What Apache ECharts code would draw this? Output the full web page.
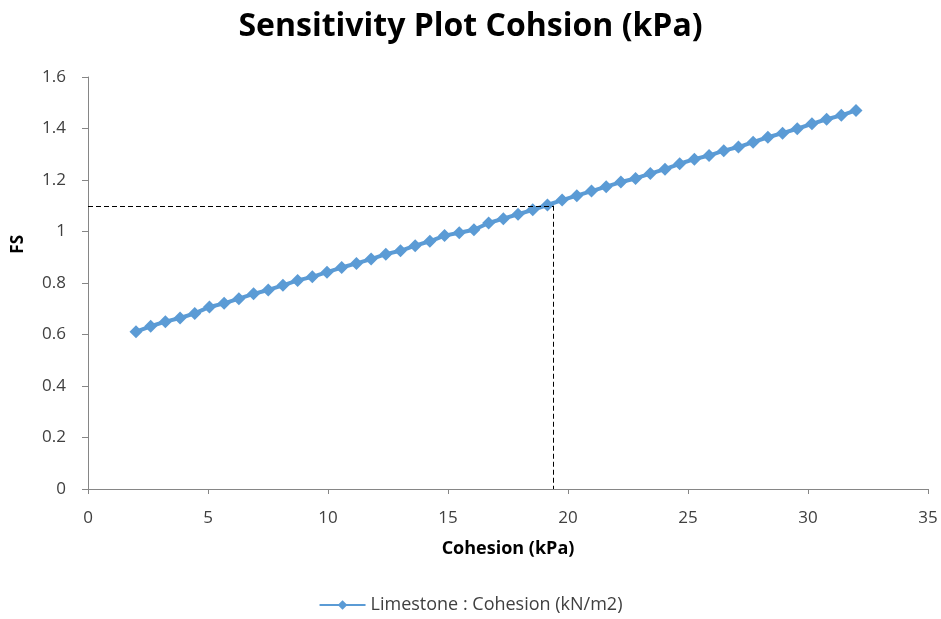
<!DOCTYPE html>
<html>
<head>
<meta charset="utf-8">
<script src="https://cdn.jsdelivr.net/npm/echarts@6/dist/echarts.min.js"></script>
<style>html,body{margin:0;padding:0;background:#fff}#c{width:941px;height:619px}</style>
</head>
<body>
<div id="c"></div>
<script>
// Data
var cohesion = [2.000, 2.612, 3.224, 3.837, 4.449, 5.061, 5.673, 6.286, 6.898, 7.510,
  8.122, 8.735, 9.347, 9.959, 10.571, 11.184, 11.796, 12.408, 13.020, 13.633,
  14.245, 14.857, 15.469, 16.082, 16.694, 17.306, 17.918, 18.531, 19.143, 19.755,
  20.367, 20.980, 21.592, 22.204, 22.816, 23.429, 24.041, 24.653, 25.265, 25.878,
  26.490, 27.102, 27.714, 28.327, 28.939, 29.551, 30.163, 30.776, 31.388, 32.000];
var fs = [0.611, 0.632, 0.650, 0.664, 0.682, 0.707, 0.721, 0.739, 0.758, 0.773,
  0.791, 0.810, 0.824, 0.842, 0.860, 0.876, 0.893, 0.912, 0.925, 0.945,
  0.962, 0.984, 0.995, 1.007, 1.033, 1.050, 1.067, 1.084, 1.103, 1.122,
  1.139, 1.157, 1.174, 1.192, 1.206, 1.225, 1.242, 1.263, 1.281, 1.295,
  1.314, 1.328, 1.347, 1.366, 1.382, 1.399, 1.418, 1.436, 1.451, 1.470];
var targetFS = 1.1;
var targetCohesion = 19.4;
var seriesName = 'Limestone : Cohesion (kN/m2)';
var titleText = 'Sensitivity Plot Cohsion (kPa)';
var xAxisTitle = 'Cohesion (kPa)';
var yAxisTitle = 'FS';

var chart = echarts.init(document.getElementById('c'));
var font = '"Open Sans", "Noto Sans", sans-serif';
var pts = cohesion.map(function (x, i) { return [x, fs[i]]; });
chart.setOption({
  animation: false,
  backgroundColor: '#fff',
  title: {
    text: titleText, left: 'center', top: 6,
    textStyle: { fontFamily: font, fontSize: 32, fontWeight: 'bold', color: '#000' }
  },
  legend: {
    bottom: 0, left: 'center', itemWidth: 46, itemHeight: 12, itemGap: 10,
    textStyle: { fontFamily: font, fontSize: 18, color: '#404040' },
    data: [seriesName]
  },
  graphic: [{
    type: 'text', left: 10, top: 235, rotation: Math.PI / 2,
    style: { text: yAxisTitle, font: 'bold 17px ' + font, fill: '#000' }
  }],
  grid: { left: 88, right: 13, top: 77, bottom: 130 },
  xAxis: {
    type: 'value', min: 0, max: 35, interval: 5,
    name: xAxisTitle, nameLocation: 'middle', nameGap: 51,
    nameTextStyle: { fontFamily: font, fontSize: 18, fontWeight: 'bold', color: '#000' },
    axisLine: { show: true, lineStyle: { color: '#868686', width: 1 } },
    axisTick: { show: true, length: 5, lineStyle: { color: '#868686' } },
    axisLabel: { margin: 21, fontFamily: font, fontSize: 17, color: '#404040' },
    splitLine: { show: false }
  },
  yAxis: {
    type: 'value', min: 0, max: 1.6, interval: 0.2,
    axisLine: { show: true, lineStyle: { color: '#868686', width: 1 } },
    axisTick: { show: true, length: 6, lineStyle: { color: '#868686' } },
    axisLabel: { margin: 22, fontFamily: font, fontSize: 17, color: '#404040' },
    splitLine: { show: false }
  },
  series: [{
    name: seriesName, type: 'line', data: pts,
    symbol: 'diamond', symbolSize: 13, showSymbol: true,
    lineStyle: { color: '#5B9BD5', width: 4 },
    itemStyle: { color: '#5B9BD5' },
    markLine: {
      silent: true, symbol: ['none', 'none'],
      label: { show: false },
      lineStyle: { color: '#000', type: [5, 3], width: 1 },
      data: [
        [{ coord: [0, targetFS] }, { coord: [targetCohesion, targetFS] }],
        [{ coord: [targetCohesion, targetFS] }, { coord: [targetCohesion, 0] }]
      ]
    }
  }]
});
</script>
</body>
</html>
